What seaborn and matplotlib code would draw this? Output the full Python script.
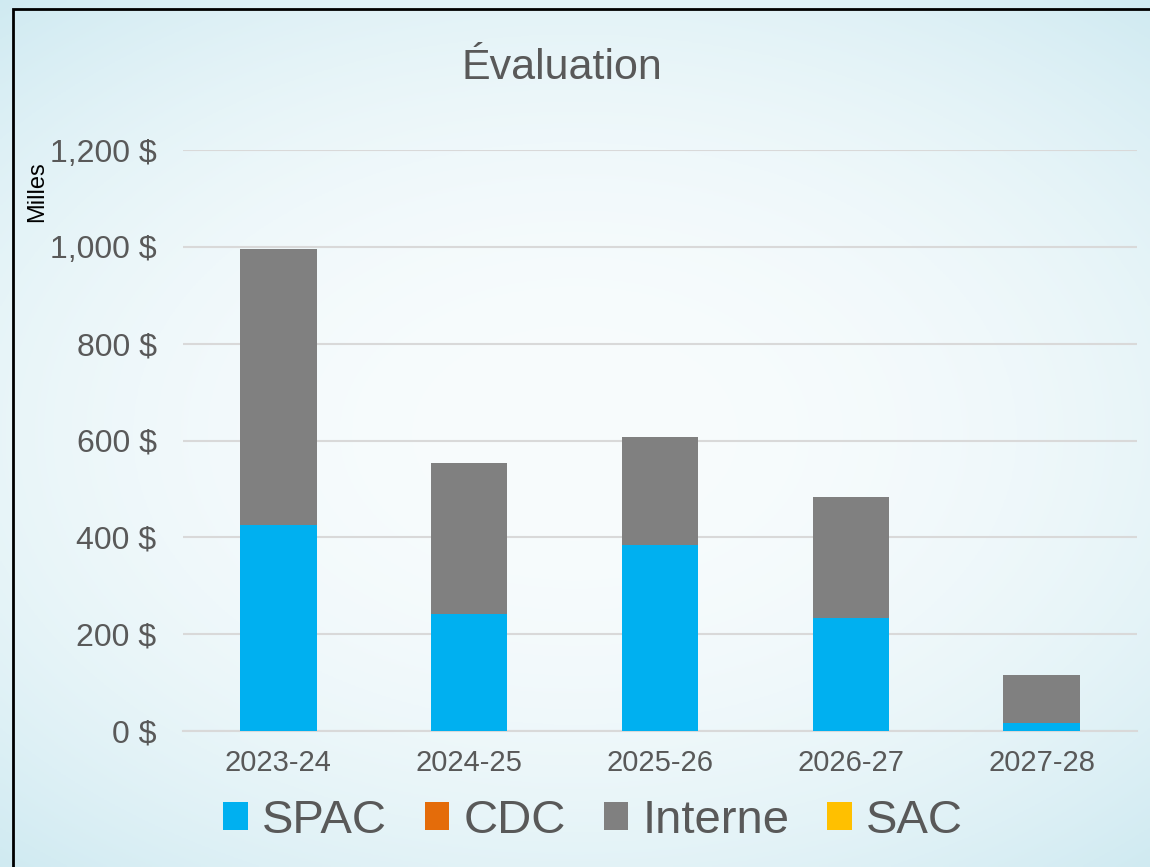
import numpy as np
import pandas as pd
import matplotlib
matplotlib.use("Agg")
import matplotlib.pyplot as plt
from matplotlib.patches import Patch, Rectangle
from matplotlib.colors import to_rgb
import seaborn as sns

years = ["2023-24", "2024-25", "2025-26", "2026-27", "2027-28"]
spac = [425, 242, 384, 233, 16]
cdc = [0, 0, 0, 0, 0]
interne = [570, 311, 223, 250, 100]
sac = [0, 0, 0, 0, 0]

series = ["SPAC", "CDC", "Interne", "SAC"]
colors = {"SPAC": "#00b0f0", "CDC": "#e46c0a", "Interne": "#808080", "SAC": "#ffc000"}

df = pd.DataFrame({"year": years, "SPAC": spac, "CDC": cdc, "Interne": interne, "SAC": sac})
cum = df[series].cumsum(axis=1)
cum["year"] = df["year"]

sns.set_style("white")
plt.rcParams["font.family"] = ["Liberation Sans", "DejaVu Sans"]

fig = plt.figure(figsize=(11.5, 8.67), dpi=100)

# soft background gradient, whiter in the middle
bg = fig.add_axes([0, 0, 1, 1], zorder=-10)
h, w = 300, 400
yy, xx = np.mgrid[0:1:h * 1j, 0:1:w * 1j]
d = np.sqrt(((xx - 0.5) / 0.8) ** 2 + ((yy - 0.5) / 0.7) ** 2)
t = np.clip(d, 0, 1) ** 2.2
edge = np.array(to_rgb("#cbe8f0"))
center = np.array(to_rgb("#f8fcfd"))
img = center[None, None, :] * (1 - t[..., None]) + edge[None, None, :] * t[..., None]
bg.imshow(img, aspect="auto", extent=[0, 1, 0, 1], origin="upper")
bg.set_xlim(0, 1)
bg.set_ylim(0, 1)
bg.axis("off")

ax = fig.add_axes([183 / 1150, 1 - 731 / 867, (1137 - 183) / 1150, (731 - 150) / 867])
ax.set_facecolor("none")

for s in reversed(series):
    sns.barplot(data=cum, x="year", y=s, color=colors[s], width=0.4,
                saturation=1, ax=ax, zorder=3, edgecolor="none", linewidth=0)

ax.set_ylim(0, 1200)
ax.set_yticks(range(0, 1201, 200))
ax.set_yticklabels([f"{v:,} $" for v in range(0, 1201, 200)])
ax.yaxis.grid(True, color="#d9d9d9", linewidth=1.5, zorder=0)
ax.set_axisbelow(True)
for sp in ["top", "right", "left"]:
    ax.spines[sp].set_visible(False)
ax.spines["bottom"].set_color("#d9d9d9")
ax.spines["bottom"].set_linewidth(1.5)
ax.tick_params(axis="y", labelsize=23, colors="#595959", length=0, pad=19)
ax.tick_params(axis="x", labelsize=21, colors="#595959", length=0, pad=13)
ax.set_xlabel("")
ax.set_ylabel("")

fig.text(37 / 1150, 1 - 192 / 867, "Milles", rotation=90, fontsize=17,
         ha="center", va="center", color="black")
fig.text(562 / 1150, 1 - 68 / 867, "Évaluation", fontsize=31,
         ha="center", va="center", color="#595959")

handles = [Patch(facecolor=colors[s], edgecolor="none") for s in series]
leg = fig.legend(handles, series, loc="center", bbox_to_anchor=(593 / 1150, 1 - 821 / 867),
                 ncol=4, frameon=False, fontsize=34, handlelength=0.52, handleheight=0.54,
                 handletextpad=0.3, columnspacing=0.8, labelcolor="#595959")

fig.add_artist(Rectangle((13 / 1150, -0.05), 1.1, 1.05 - 9 / 867, transform=fig.transFigure,
                         fill=False, edgecolor="black", linewidth=2))

fig.savefig("out.png", dpi=100)
